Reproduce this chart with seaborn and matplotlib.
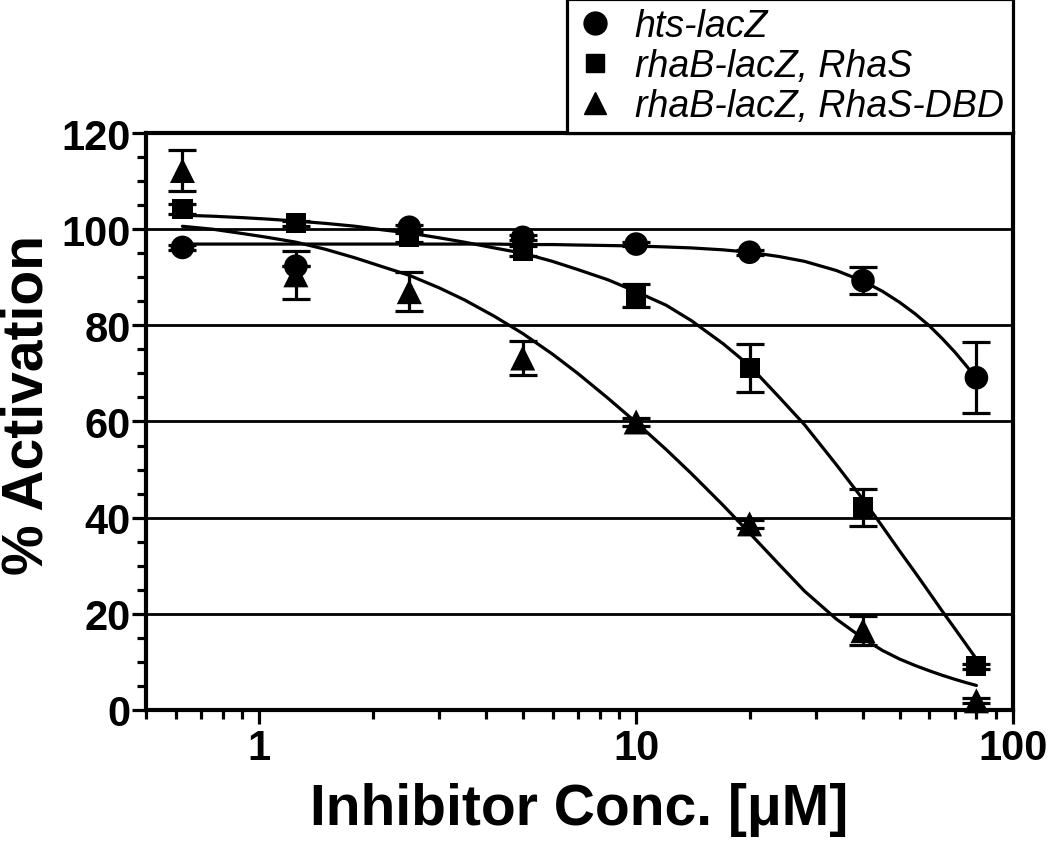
import matplotlib
matplotlib.use("Agg")
import matplotlib.pyplot as plt
import matplotlib.ticker as mticker
from matplotlib.lines import Line2D
import numpy as np
import seaborn as sns

conc = [0.625, 1.25, 2.5, 5, 10, 20, 40, 80]
hts_mean = [96.2, 92.3, 100.4, 98.3, 96.9, 95.2, 89.3, 69.1]
hts_err = [0.5, 0.0, 0.5, 0.5, 0.5, 0.5, 2.8, 7.4]
rhas_mean = [104.2, 101.2, 98.3, 95.4, 86.2, 71.1, 42.1, 9.1]
rhas_err = [1.0, 0.5, 1.0, 1.0, 2.4, 5.0, 3.8, 0.5]
dbd_mean = [112.2, 90.5, 87.0, 73.2, 59.9, 38.7, 16.5, 1.9]
dbd_err = [4.3, 5.0, 4.0, 3.6, 0.8, 0.8, 3.0, 0.5]

# fitted dose-response curves
fit_conc = [0.625, 0.75, 0.9, 1.05, 1.25, 1.5, 1.8, 2.1, 2.5, 3.0, 3.5, 4.2, 5, 6, 7, 8.4,
            10, 12, 14, 17, 20, 24, 28, 34, 40, 45, 50, 55, 60, 65, 70, 75, 80]
hts_fit = [96.9, 96.9, 96.9, 96.9, 96.9, 96.9, 96.9, 96.9, 96.9, 96.9, 96.9, 96.9, 96.8,
           96.8, 96.7, 96.6, 96.5, 96.3, 96.1, 95.7, 95.2, 94.3, 93.3, 91.4, 89.2, 87.1,
           84.8, 82.4, 79.9, 77.2, 74.5, 71.7, 69.0]
rhas_fit = [102.9, 102.7, 102.4, 102.1, 101.7, 101.2, 100.6, 99.9, 99.2, 98.2, 97.3, 96.1,
            95.0, 93.3, 91.6, 89.5, 87.0, 84.2, 81.0, 76.2, 71.6, 65.0, 59.3, 51.0, 43.8,
            38.2, 33.1, 28.6, 24.4, 20.5, 17.0, 13.7, 10.6]
dbd_fit = [100.6, 100.0, 99.1, 98.3, 97.3, 95.8, 94.0, 92.3, 90.4, 87.8, 85.3, 81.9, 78.3,
           74.0, 70.0, 64.9, 59.8, 54.2, 49.2, 42.6, 36.8, 30.2, 24.7, 18.9, 14.9, 12.4,
           10.6, 9.25, 8.15, 7.2, 6.4, 5.7, 5.1]

labels = ["hts-lacZ", "rhaB-lacZ, RhaS", "rhaB-lacZ, RhaS-DBD"]

sns.set_style("ticks")
plt.rcParams["font.family"] = ["Liberation Sans", "DejaVu Sans"]
plt.rcParams.update({"text.color": "black", "axes.labelcolor": "black",
                     "xtick.color": "black", "ytick.color": "black",
                     "axes.edgecolor": "black"})

fig = plt.figure(figsize=(10.5, 8.53), dpi=100)
ax = fig.add_axes([0.139, 0.1665, 0.8257, 0.6764])

series = [
    (hts_mean, hts_err, hts_fit, "o", 17),
    (rhas_mean, rhas_err, rhas_fit, "s", 14.5),
    (dbd_mean, dbd_err, dbd_fit, "^", 18),
]

for mean, err, fit, marker, ms in series:
    sns.lineplot(x=fit_conc, y=fit, color="black", lw=2.3, ax=ax, zorder=3)
    ax.errorbar(conc, mean, yerr=err, fmt="none", ecolor="black", elinewidth=2.3,
                capsize=10, capthick=2.3, zorder=4, clip_on=False)
    sns.scatterplot(x=conc, y=mean, marker=marker, s=ms ** 2, color="black",
                    edgecolor="none", ax=ax, zorder=5, clip_on=False)

ax.set_xscale("log")
ax.set_xlim(0.5, 100)
ax.set_ylim(0, 120)
ax.xaxis.set_major_locator(mticker.FixedLocator([1, 10, 100]))
ax.xaxis.set_major_formatter(mticker.FuncFormatter(lambda v, p: f"{v:g}"))
ax.xaxis.set_minor_locator(mticker.LogLocator(base=10, subs=np.arange(2, 10)))
ax.xaxis.set_minor_formatter(mticker.NullFormatter())
ax.yaxis.set_major_locator(mticker.MultipleLocator(20))
ax.yaxis.set_minor_locator(mticker.MultipleLocator(5))

ax.yaxis.grid(True, which="major", color="black", lw=2.0, zorder=1)
ax.set_axisbelow(True)

for s in ax.spines.values():
    s.set_linewidth(3)
    s.set_color("black")

ax.tick_params(which="major", direction="out", length=10, width=2.3, color="black")
ax.tick_params(which="minor", direction="out", length=6.5, width=2.3, color="black")
ax.tick_params(axis="x", which="both", pad=3)
ax.tick_params(axis="y", which="both", pad=1)
for lab in ax.get_xticklabels() + ax.get_yticklabels():
    lab.set_fontsize(30)
    lab.set_fontweight("bold")
    lab.set_color("black")

ax.set_xlabel("Inhibitor Conc. [μM]", fontsize=41, fontweight="bold", color="black")
ax.set_ylabel("% Activation", fontsize=41, fontweight="bold", color="black")
ax.xaxis.set_label_coords(0.5, -0.125)
ax.yaxis.set_label_coords(-0.105, 0.53)

handles = [
    Line2D([], [], marker="o", ls="none", color="black", markersize=16.5),
    Line2D([], [], marker="s", ls="none", color="black", markersize=13),
    Line2D([], [], marker="^", ls="none", color="black", markersize=16),
]
leg = ax.legend(handles, labels, loc="lower right", bbox_to_anchor=(1, 1),
                borderaxespad=0, frameon=True, fancybox=False, edgecolor="black",
                framealpha=1, prop=dict(family="Liberation Sans", style="italic", size=27),
                handlelength=1.0, handletextpad=0.55, borderpad=0.25, labelspacing=0.1)
leg.get_frame().set_linewidth(2.3)
for t in leg.get_texts():
    t.set_color("black")

fig.savefig("out.png", dpi=100)
